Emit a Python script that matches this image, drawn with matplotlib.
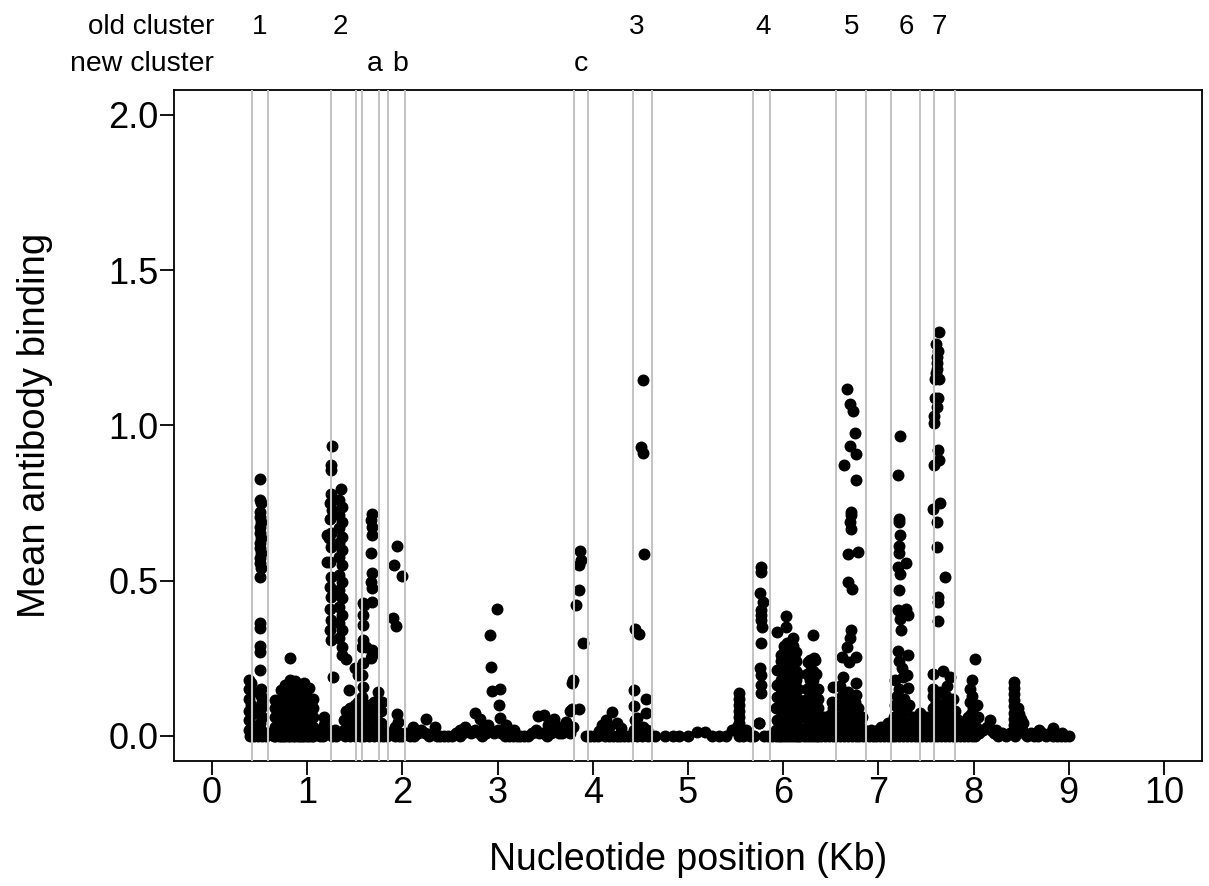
import matplotlib
matplotlib.use('Agg')
import matplotlib.pyplot as plt
import matplotlib.transforms as mtransforms

plt.rcParams['font.family'] = ['Liberation Sans', 'DejaVu Sans']

# cluster boundaries (Kb), grey lines
bounds = [0.417, 0.585, 1.250, 1.509, 1.578, 1.751, 1.852, 2.027,
          3.803, 3.953, 4.419, 4.619, 5.680, 5.858, 6.552, 6.873,
          7.132, 7.437, 7.587, 7.805]

old_labels = ['1', '2', '3', '4', '5', '6', '7']
old_pos = [0.50, 1.35, 4.46, 5.79, 6.72, 7.29, 7.64]
new_labels = ['a', 'b', 'c']
new_pos = [1.71, 1.98, 3.87]

xticks = [0, 1, 2, 3, 4, 5, 6, 7, 8, 9, 10]
yticks = [0.0, 0.5, 1.0, 1.5, 2.0]

# (position Kb, mean binding), by region
region_1 = [(0.39, 0.18), (0.41, 0.17), (0.39, 0.15), (0.42, 0.14), (0.39, 0.12), (0.41, 0.10),
            (0.39, 0.08), (0.42, 0.07), (0.39, 0.05), (0.41, 0.03), (0.39, 0.02), (0.42, 0.01),
            (0.40, 0.0), (0.50, 0.826), (0.50, 0.759), (0.51, 0.749), (0.50, 0.721), (0.50, 0.705),
            (0.51, 0.689), (0.50, 0.672), (0.50, 0.653), (0.51, 0.637), (0.50, 0.620), (0.50, 0.604),
            (0.51, 0.588), (0.50, 0.572), (0.50, 0.556), (0.51, 0.540), (0.50, 0.511), (0.50, 0.364),
            (0.50, 0.347), (0.50, 0.289), (0.50, 0.270), (0.50, 0.212), (0.51, 0.15), (0.51, 0.13),
            (0.52, 0.11), (0.51, 0.09), (0.52, 0.06), (0.50, 0.04), (0.51, 0.02)]

block_08 = [(0.66, 0.0), (0.66, 0.03), (0.66, 0.06), (0.66, 0.09), (0.66, 0.116),
            (0.72, 0.0), (0.72, 0.03), (0.72, 0.06), (0.72, 0.09), (0.72, 0.12), (0.72, 0.148),
            (0.77, 0.0), (0.77, 0.03), (0.77, 0.06), (0.77, 0.09), (0.77, 0.12), (0.77, 0.15), (0.77, 0.165),
            (0.82, 0.0), (0.82, 0.03), (0.82, 0.06), (0.82, 0.09), (0.82, 0.12), (0.82, 0.15), (0.82, 0.18),
            (0.82, 0.25),
            (0.87, 0.0), (0.87, 0.03), (0.87, 0.06), (0.87, 0.09), (0.87, 0.12), (0.87, 0.15), (0.87, 0.177),
            (0.92, 0.0), (0.92, 0.03), (0.92, 0.06), (0.92, 0.09), (0.92, 0.12), (0.92, 0.15), (0.92, 0.165),
            (0.97, 0.0), (0.97, 0.03), (0.97, 0.06), (0.97, 0.09), (0.97, 0.12), (0.97, 0.15), (0.97, 0.17),
            (1.02, 0.0), (1.02, 0.03), (1.02, 0.06), (1.02, 0.09), (1.02, 0.12), (1.02, 0.155),
            (1.06, 0.0), (1.06, 0.03), (1.06, 0.06), (1.06, 0.09), (1.06, 0.12),
            (1.13, 0.02), (1.18, 0.06), (1.18, 0.035), (1.27, 0.01)]

region_2 = [(1.26, 0.933), (1.25, 0.871), (1.25, 0.855), (1.25, 0.778), (1.24, 0.749), (1.26, 0.727),
            (1.24, 0.70), (1.25, 0.652), (1.23, 0.636), (1.25, 0.609), (1.21, 0.646), (1.24, 0.56),
            (1.21, 0.56), (1.25, 0.512), (1.24, 0.48), (1.25, 0.448), (1.24, 0.41), (1.25, 0.373),
            (1.24, 0.341), (1.25, 0.309), (1.27, 0.191),
            (1.35, 0.794), (1.33, 0.759), (1.36, 0.737), (1.33, 0.71), (1.36, 0.689), (1.33, 0.668),
            (1.36, 0.641), (1.33, 0.62), (1.36, 0.598), (1.33, 0.577), (1.36, 0.55), (1.33, 0.518),
            (1.36, 0.496), (1.33, 0.469), (1.36, 0.443), (1.33, 0.416), (1.36, 0.389), (1.33, 0.363),
            (1.36, 0.341), (1.33, 0.315), (1.36, 0.287), (1.36, 0.26), (1.41, 0.247),
            (1.44, 0.148), (1.19, 0.05), (1.20, 0.03), (1.23, 0.01), (1.29, 0.02),
            (1.39, 0.02), (1.39, 0.05), (1.41, 0.08), (1.43, 0.03), (1.43, 0.06), (1.45, 0.09),
            (1.47, 0.01), (1.47, 0.04), (1.48, 0.07), (1.50, 0.10), (1.51, 0.03), (1.52, 0.06),
            (1.53, 0.11), (1.55, 0.02), (1.55, 0.08), (1.50, 0.219), (1.53, 0.196)]

region_ab = [(1.585, 0.427), (1.60, 0.42), (1.585, 0.389), (1.59, 0.357), (1.585, 0.309), (1.58, 0.287),
             (1.585, 0.234), (1.58, 0.196), (1.585, 0.159), (1.58, 0.126), (1.585, 0.084), (1.58, 0.051),
             (1.585, 0.019), (1.62, 0.287),
             (1.68, 0.716), (1.67, 0.695), (1.68, 0.673), (1.68, 0.646), (1.67, 0.588), (1.68, 0.524),
             (1.67, 0.497), (1.68, 0.476), (1.68, 0.432), (1.68, 0.277), (1.68, 0.26), (1.67, 0.25),
             (1.62, 0.02), (1.63, 0.06), (1.65, 0.10), (1.67, 0.03), (1.68, 0.07), (1.70, 0.11),
             (1.72, 0.02), (1.73, 0.05), (1.74, 0.09), (1.74, 0.14), (1.76, 0.01), (1.77, 0.04),
             (1.78, 0.08), (1.79, 0.11), (1.81, 0.02),
             (1.94, 0.61), (1.91, 0.55), (2.00, 0.515), (1.90, 0.38), (1.93, 0.355), (1.94, 0.07),
             (1.95, 0.045), (1.92, 0.03), (1.97, 0.01)]

region_2to4 = [(2.11, 0.03), (2.25, 0.054), (2.34, 0.03), (2.60, 0.02), (2.66, 0.03), (2.76, 0.074),
               (2.81, 0.054), (2.86, 0.03), (2.90, 0.035), (2.92, 0.325), (2.93, 0.223), (2.94, 0.143),
               (2.99, 0.41), (3.02, 0.15), (3.01, 0.10), (3.02, 0.057), (3.09, 0.035), (3.13, 0.02),
               (3.17, 0.02), (3.42, 0.065), (3.49, 0.068), (3.53, 0.035), (3.59, 0.055), (3.65, 0.03),
               (3.72, 0.046), (3.76, 0.08), (3.79, 0.18), (3.78, 0.17), (3.78, 0.085), (3.85, 0.085),
               (3.87, 0.595), (3.88, 0.565), (3.86, 0.55), (3.86, 0.47), (3.82, 0.42), (3.90, 0.30)]

region_3 = [(4.06, 0.015), (4.10, 0.035), (4.14, 0.051), (4.17, 0.03), (4.20, 0.078), (4.25, 0.04),
            (4.30, 0.025), (4.53, 1.147), (4.51, 0.93), (4.53, 0.91), (4.54, 0.585), (4.44, 0.344),
            (4.49, 0.328), (4.43, 0.148), (4.56, 0.12), (4.43, 0.096), (4.56, 0.073), (4.46, 0.058),
            (4.43, 0.02), (4.47, 0.03), (4.50, 0.02), (4.53, 0.03), (4.57, 0.02), (4.44, 0.05),
            (5.09, 0.014), (5.18, 0.014), (5.46, 0.02), (5.51, 0.03), (5.54, 0.0), (5.54, 0.02),
            (5.54, 0.04), (5.54, 0.06), (5.54, 0.08), (5.54, 0.10), (5.54, 0.12), (5.54, 0.138),
            (5.61, 0.02), (5.75, 0.04)]

region_4 = [(5.77, 0.545), (5.77, 0.528), (5.76, 0.46), (5.79, 0.432), (5.77, 0.405), (5.77, 0.39),
            (5.77, 0.373), (5.78, 0.352), (5.77, 0.30), (5.76, 0.219), (5.77, 0.196), (5.77, 0.164),
            (5.77, 0.138), (5.75, 0.04),
            (5.94, 0.335), (5.93, 0.212), (5.94, 0.165), (5.94, 0.125), (5.92, 0.09), (5.93, 0.05),
            (5.92, 0.02), (6.03, 0.386), (6.03, 0.35), (6.10, 0.315),
            (5.98, 0.0), (5.98, 0.03), (5.98, 0.06), (5.98, 0.09), (5.98, 0.12), (5.98, 0.15), (5.98, 0.18),
            (5.98, 0.21), (5.98, 0.24), (5.98, 0.26),
            (6.01, 0.0), (6.01, 0.03), (6.01, 0.06), (6.01, 0.09), (6.01, 0.12), (6.01, 0.15), (6.01, 0.18),
            (6.01, 0.21), (6.01, 0.24), (6.01, 0.27), (6.01, 0.29),
            (6.04, 0.0), (6.04, 0.03), (6.04, 0.06), (6.04, 0.09), (6.04, 0.12), (6.04, 0.15), (6.04, 0.18),
            (6.04, 0.21), (6.04, 0.24), (6.04, 0.27), (6.04, 0.30),
            (6.07, 0.0), (6.07, 0.03), (6.07, 0.06), (6.07, 0.09), (6.07, 0.12), (6.07, 0.15), (6.07, 0.18),
            (6.07, 0.21), (6.07, 0.24), (6.07, 0.27), (6.07, 0.30),
            (6.10, 0.0), (6.10, 0.03), (6.10, 0.06), (6.10, 0.09), (6.10, 0.12), (6.10, 0.15), (6.10, 0.18),
            (6.10, 0.21), (6.10, 0.24), (6.10, 0.27), (6.10, 0.29),
            (6.13, 0.0), (6.13, 0.03), (6.13, 0.06), (6.13, 0.09), (6.13, 0.12), (6.13, 0.15), (6.13, 0.18),
            (6.13, 0.21), (6.13, 0.24), (6.13, 0.27),
            (6.16, 0.0), (6.16, 0.03), (6.16, 0.06), (6.16, 0.09), (6.16, 0.12), (6.16, 0.15), (6.16, 0.20),
            (6.19, 0.02), (6.20, 0.06), (6.21, 0.10),
            (6.31, 0.325), (6.26, 0.239), (6.32, 0.25), (6.28, 0.245), (6.33, 0.245),
            (6.25, 0.0), (6.25, 0.03), (6.25, 0.06), (6.25, 0.09), (6.25, 0.12), (6.25, 0.15), (6.25, 0.20),
            (6.28, 0.0), (6.28, 0.03), (6.28, 0.06), (6.28, 0.09), (6.28, 0.12), (6.28, 0.15), (6.28, 0.18),
            (6.28, 0.207),
            (6.31, 0.0), (6.31, 0.03), (6.31, 0.06), (6.31, 0.09), (6.31, 0.12), (6.31, 0.15), (6.31, 0.18),
            (6.31, 0.21),
            (6.34, 0.0), (6.34, 0.03), (6.34, 0.06), (6.34, 0.09), (6.34, 0.12), (6.34, 0.15), (6.34, 0.20),
            (6.37, 0.0), (6.37, 0.03), (6.37, 0.06), (6.37, 0.09), (6.37, 0.12), (6.37, 0.15),
            (6.41, 0.02), (6.43, 0.06), (6.45, 0.05), (6.47, 0.02), (6.49, 0.067), (6.51, 0.11),
            (6.52, 0.157), (6.52, 0.09), (6.53, 0.03), (6.54, 0.05)]

region_5 = [(6.67, 1.118), (6.70, 1.07), (6.73, 1.046), (6.75, 0.975), (6.70, 0.933), (6.76, 0.907),
            (6.64, 0.871), (6.77, 0.823), (6.71, 0.721), (6.71, 0.71), (6.70, 0.688), (6.71, 0.665),
            (6.68, 0.585), (6.79, 0.593), (6.68, 0.496), (6.72, 0.473), (6.71, 0.341), (6.70, 0.314),
            (6.67, 0.287), (6.69, 0.239), (6.76, 0.255), (6.63, 0.19), (6.77, 0.171), (6.76, 0.132),
            (6.62, 0.255), (6.60, 0.16),
            (6.58, 0.02), (6.58, 0.06), (6.60, 0.10), (6.62, 0.13), (6.63, 0.04), (6.64, 0.08),
            (6.66, 0.11), (6.67, 0.02), (6.69, 0.06), (6.70, 0.10), (6.72, 0.03), (6.73, 0.07),
            (6.75, 0.11), (6.76, 0.02), (6.78, 0.05), (6.79, 0.09), (6.81, 0.03), (6.83, 0.06),
            (6.85, 0.02), (6.68, 0.14), (6.72, 0.12),
            (6.88, 0.01), (6.92, 0.02), (6.96, 0.01), (7.00, 0.02), (7.03, 0.03), (7.07, 0.02),
            (7.10, 0.04), (7.12, 0.02)]

region_6 = [(7.23, 0.965), (7.21, 0.84), (7.22, 0.70), (7.22, 0.69), (7.23, 0.647), (7.22, 0.61),
            (7.22, 0.59), (7.29, 0.557), (7.21, 0.545), (7.23, 0.52), (7.22, 0.47), (7.21, 0.405),
            (7.29, 0.41), (7.31, 0.389), (7.23, 0.376), (7.24, 0.34), (7.21, 0.274), (7.31, 0.26),
            (7.22, 0.24), (7.25, 0.22), (7.30, 0.195), (7.18, 0.18), (7.26, 0.19), (7.22, 0.15),
            (7.31, 0.155),
            (7.15, 0.02), (7.16, 0.06), (7.18, 0.10), (7.19, 0.03), (7.20, 0.13), (7.21, 0.07),
            (7.23, 0.02), (7.24, 0.10), (7.25, 0.05), (7.27, 0.12), (7.28, 0.02), (7.29, 0.08),
            (7.31, 0.04), (7.32, 0.10), (7.34, 0.02), (7.36, 0.06), (7.38, 0.03), (7.40, 0.05),
            (7.42, 0.02), (7.44, 0.073), (7.45, 0.04), (7.50, 0.06), (7.49, 0.02), (7.51, 0.04),
            (7.53, 0.01), (7.55, 0.03)]

region_7 = [(7.64, 1.302), (7.61, 1.263), (7.63, 1.24), (7.62, 1.22), (7.62, 1.20), (7.62, 1.18),
            (7.61, 1.17), (7.60, 1.15), (7.64, 1.15), (7.60, 1.087), (7.63, 1.087), (7.62, 1.06),
            (7.58, 1.03), (7.58, 1.007), (7.63, 0.92), (7.64, 0.887), (7.58, 0.871), (7.65, 0.75),
            (7.57, 0.732), (7.62, 0.689), (7.62, 0.609), (7.70, 0.512), (7.63, 0.448), (7.63, 0.432),
            (7.63, 0.371), (7.57, 0.20), (7.68, 0.21), (7.57, 0.15), (7.57, 0.13), (7.75, 0.19),
            (7.55, 0.05), (7.57, 0.09), (7.59, 0.02), (7.60, 0.06), (7.61, 0.11), (7.63, 0.03),
            (7.64, 0.08), (7.65, 0.14), (7.66, 0.04), (7.67, 0.10), (7.69, 0.02), (7.70, 0.07),
            (7.71, 0.13), (7.72, 0.16), (7.73, 0.04), (7.74, 0.10), (7.76, 0.02), (7.77, 0.07),
            (7.78, 0.12), (7.79, 0.04), (7.81, 0.08), (7.82, 0.02), (7.84, 0.05),
            (8.02, 0.248), (7.98, 0.18), (7.96, 0.15), (7.98, 0.13), (7.96, 0.11), (7.99, 0.09),
            (7.97, 0.07), (8.00, 0.05), (7.96, 0.03), (8.01, 0.01), (7.92, 0.02), (7.94, 0.06),
            (8.03, 0.03), (8.05, 0.06), (8.04, 0.10), (7.88, 0.02), (7.90, 0.04), (8.24, 0.02)]

region_8 = [(8.17, 0.05), (8.43, 0.175), (8.43, 0.155), (8.43, 0.135), (8.43, 0.115), (8.43, 0.095),
            (8.43, 0.075), (8.43, 0.055), (8.43, 0.035), (8.43, 0.015), (8.44, 0.0), (8.47, 0.09),
            (8.48, 0.07), (8.47, 0.05), (8.49, 0.03), (8.50, 0.055), (8.52, 0.04), (8.51, 0.02),
            (8.53, 0.01), (8.69, 0.02), (8.83, 0.025), (8.93, 0.01), (9.00, 0.0)]

# points sitting at the zero line
baseline = [(0.44, 0.0), (0.48, 0.0), (0.53, 0.0), (0.57, 0.0), (0.61, 0.01), (0.65, 0.0),
            (0.70, 0.0), (0.75, 0.0), (0.80, 0.0), (0.85, 0.0), (0.90, 0.0), (0.95, 0.0),
            (1.00, 0.0), (1.05, 0.0), (1.09, 0.01), (1.13, 0.0), (1.17, 0.0), (1.21, 0.01),
            (1.26, 0.0), (1.30, 0.0), (1.40, 0.0), (1.45, 0.0), (1.50, 0.0), (1.55, 0.0),
            (1.60, 0.0), (1.65, 0.0), (1.70, 0.0), (1.75, 0.0), (1.80, 0.0), (1.84, 0.0),
            (1.88, 0.01), (1.92, 0.0), (1.96, 0.0), (2.00, 0.0), (2.04, 0.01), (2.08, 0.0),
            (2.12, 0.0), (2.16, 0.01), (2.20, 0.02), (2.24, 0.01), (2.28, 0.0), (2.32, 0.01),
            (2.36, 0.0), (2.40, 0.0), (2.44, 0.0), (2.48, 0.0), (2.52, 0.0), (2.56, 0.01),
            (2.60, 0.0), (2.64, 0.01), (2.68, 0.02), (2.72, 0.01), (2.76, 0.02), (2.80, 0.01),
            (2.84, 0.0), (2.88, 0.01), (2.92, 0.02), (2.96, 0.01), (3.00, 0.02), (3.04, 0.01),
            (3.08, 0.0), (3.12, 0.0), (3.16, 0.0), (3.20, 0.0), (3.24, 0.0), (3.28, 0.0),
            (3.32, 0.0), (3.36, 0.01), (3.40, 0.02), (3.44, 0.01), (3.48, 0.01), (3.52, 0.0),
            (3.56, 0.01), (3.60, 0.02), (3.64, 0.01), (3.68, 0.01), (3.72, 0.02), (3.76, 0.01),
            (3.79, 0.03), (3.93, 0.0), (3.97, 0.0), (4.01, 0.0), (4.05, 0.0), (4.09, 0.01),
            (4.13, 0.0), (4.17, 0.0), (4.21, 0.0), (4.25, 0.0), (4.29, 0.0), (4.33, 0.0),
            (4.37, 0.0), (4.41, 0.0), (4.46, 0.0), (4.52, 0.0), (4.58, 0.0), (4.65, 0.0),
            (4.76, 0.0), (4.84, 0.0), (4.91, 0.0), (5.00, 0.0), (5.25, 0.0), (5.33, 0.0),
            (5.40, 0.0), (5.58, 0.0), (5.65, 0.0), (5.69, 0.0), (5.80, 0.0), (5.84, 0.0),
            (5.88, 0.0), (5.92, 0.0), (5.96, 0.0), (6.00, 0.01), (6.18, 0.0), (6.22, 0.0),
            (6.40, 0.0), (6.44, 0.0), (6.48, 0.0), (6.52, 0.0), (6.56, 0.0), (6.60, 0.0),
            (6.64, 0.0), (6.68, 0.0), (6.72, 0.0), (6.76, 0.0), (6.80, 0.0), (6.84, 0.0),
            (6.90, 0.0), (6.94, 0.0), (6.98, 0.0), (7.02, 0.0), (7.06, 0.0), (7.10, 0.0),
            (7.14, 0.0), (7.18, 0.0), (7.22, 0.0), (7.26, 0.0), (7.30, 0.0), (7.34, 0.0),
            (7.38, 0.0), (7.42, 0.0), (7.46, 0.0), (7.50, 0.0), (7.54, 0.0), (7.58, 0.0),
            (7.62, 0.0), (7.66, 0.0), (7.70, 0.0), (7.74, 0.0), (7.78, 0.0), (7.82, 0.0),
            (7.86, 0.0), (7.90, 0.0), (7.94, 0.0), (7.98, 0.0), (8.02, 0.0), (8.06, 0.01),
            (8.10, 0.02), (8.14, 0.03), (8.18, 0.02), (8.22, 0.01), (8.26, 0.0), (8.30, 0.01),
            (8.34, 0.0), (8.38, 0.01), (8.56, 0.0), (8.60, 0.01), (8.64, 0.0), (8.68, 0.0),
            (8.72, 0.01), (8.76, 0.0), (8.80, 0.01), (8.84, 0.0), (8.88, 0.0), (8.92, 0.0),
            (8.96, 0.0)]

points = (region_1 + block_08 + region_2 + region_ab + region_2to4 + region_3
          + region_4 + region_5 + region_6 + region_7 + region_8 + baseline)
pos = [p[0] for p in points]
binding = [p[1] for p in points]

fig = plt.figure(figsize=(12.09, 8.86), dpi=100)
ax = fig.add_axes([0.1439, 0.1414, 0.8503, 0.757])

for b in bounds:
    ax.axvline(b, color='#c4c4c4', lw=1.5, zorder=3)
ax.scatter(pos, binding, s=74, c='black', linewidths=0, zorder=2)

ax.set_xlim(-0.4, 10.4)
ax.set_ylim(-0.08, 2.08)
ax.set_xticks(xticks)
ax.set_xticklabels([str(t) for t in xticks])
ax.set_yticks(yticks)
ax.set_yticklabels(['%.1f' % t for t in yticks])
ax.tick_params(labelsize=26, length=10, width=1.3, direction='out', pad=1)
for sp in ax.spines.values():
    sp.set_linewidth(1.3)

ax.set_xlabel('Nucleotide position (Kb)', fontsize=27, labelpad=22)
ax.set_ylabel('Mean antibody binding', fontsize=27.5, labelpad=40)

trans = mtransforms.blended_transform_factory(ax.transData, fig.transFigure)
ax.text(0.02, 1 - 27 / 886, 'old cluster', transform=trans, ha='right', va='center', fontsize=20)
ax.text(0.02, 1 - 64 / 886, 'new cluster', transform=trans, ha='right', va='center', fontsize=20.5)
for lab, x in zip(old_labels, old_pos):
    ax.text(x, 1 - 27 / 886, lab, transform=trans, ha='center', va='center', fontsize=20)
for lab, x in zip(new_labels, new_pos):
    ax.text(x, 1 - 64 / 886, lab, transform=trans, ha='center', va='center', fontsize=20.5)

fig.savefig('out.png', dpi=100)
